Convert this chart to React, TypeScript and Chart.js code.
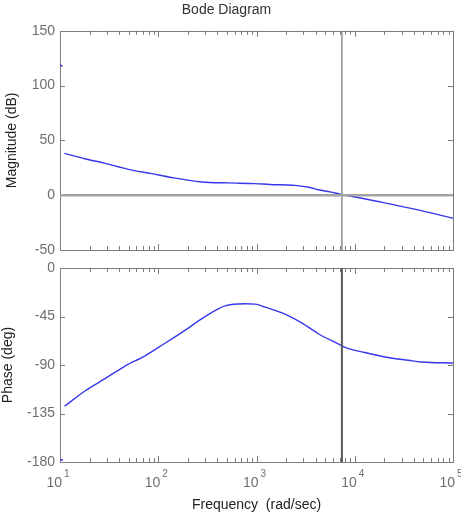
import React, { useEffect, useRef } from 'react';
import { Chart, registerables } from 'chart.js';

Chart.register(...registerables);

// ---- data ----
const FREQ_MIN = 10;
const FREQ_MAX = 100000;
const DECADE_EXPONENTS = [1, 2, 3, 4, 5];
const MAG_TICKS = [-50, 0, 50, 100, 150];
const PHASE_TICKS = [-180, -135, -90, -45, 0];
const CROSSOVER_FREQ = 7400;
const ZERO_DB = 0;

const magFreq = [11.1, 17.9, 28.7, 49.5, 86, 137, 277, 517, 966, 1371, 2466, 3510, 4230, 5600, 7450, 10800, 17200, 40600, 100000];
const magDb = [38.2, 33.3, 29.1, 23.6, 19.7, 16.1, 12.1, 11.2, 10.6, 9.8, 9.0, 7.0, 5.0, 3.0, 0.6, -2.1, -5.7, -12.7, -21];

const phaseFreq = [11.1, 17.97, 28.7, 45.9, 73.3, 117, 187, 299, 478, 764, 966, 1222, 1951, 2884, 4256, 6804, 7955, 12700, 21950, 35050, 47960, 100000];
const phaseDeg = [-128.3, -114.1, -102.7, -91.0, -81.5, -69.8, -57.8, -45.2, -35.1, -33.2, -33.5, -36.3, -42.7, -50.9, -61.0, -70.5, -73.6, -78.4, -83.1, -85.6, -87.2, -88.2];

const magStrayFreq = [10, 10.6];
const magStrayDb = [119, 117.5];
const phaseStrayFreq = [10, 10.7];
const phaseStrayDeg = [-178, -178];

const FONT = '"Liberation Sans", Arial, Helvetica, sans-serif';
const BLUE = 'rgb(55,55,235)';
const TICK_TEXT = '#6e6e6e';
const FRAME = '#7c7c7c';

const pts = (xs: number[], ys: number[]) => xs.map((x, i) => ({ x, y: ys[i] }));

function axesPlugin(yTicks: number[], drawXLabels: boolean) {
  return {
    id: 'matlabAxes',
    beforeDatasetsDraw(chart: any) {
      const { ctx, chartArea } = chart;
      const { left, right, top, bottom } = chartArea;
      const x = chart.scales.x;
      const y = chart.scales.y;
      ctx.save();
      ctx.strokeStyle = FRAME;
      ctx.lineWidth = 1;
      ctx.beginPath();
      for (const v of yTicks) {
        const py = Math.round(y.getPixelForValue(v)) + 0.5;
        ctx.moveTo(left, py);
        ctx.lineTo(left + 5, py);
        ctx.moveTo(right, py);
        ctx.lineTo(right - 5, py);
      }
      for (const e of DECADE_EXPONENTS) {
        for (let m = 1; m <= 9; m++) {
          const v = m * Math.pow(10, e);
          if (v < FREQ_MIN || v > FREQ_MAX) continue;
          const len = m === 1 ? 6 : 4;
          const px = Math.round(x.getPixelForValue(v)) + 0.5;
          ctx.moveTo(px, bottom);
          ctx.lineTo(px, bottom - len);
          ctx.moveTo(px, top);
          ctx.lineTo(px, top + len);
        }
      }
      ctx.stroke();
      ctx.strokeRect(Math.round(left) + 0.5, Math.round(top) + 0.5, Math.round(right - left), Math.round(bottom - top));
      ctx.restore();
    },
    afterDraw(chart: any) {
      if (!drawXLabels) return;
      const { ctx, chartArea } = chart;
      const x = chart.scales.x;
      ctx.save();
      ctx.fillStyle = TICK_TEXT;
      ctx.textBaseline = 'alphabetic';
      for (const e of DECADE_EXPONENTS) {
        const px = x.getPixelForValue(Math.pow(10, e));
        ctx.font = `14px ${FONT}`;
        ctx.textAlign = 'right';
        ctx.fillText('10', px + 2, chartArea.bottom + 25);
        ctx.font = `10px ${FONT}`;
        ctx.textAlign = 'left';
        ctx.fillText(String(e), px + 4, chartArea.bottom + 15);
      }
      ctx.restore();
    },
  };
}

function xScale(extra: any) {
  return {
    type: 'logarithmic',
    min: FREQ_MIN,
    max: FREQ_MAX,
    ticks: { display: false },
    grid: { display: false, drawTicks: false },
    border: { display: false },
    ...extra,
  };
}

function yScale(ticksArr: number[], title: string, titlePadTop: number) {
  return {
    type: 'linear',
    min: ticksArr[0],
    max: ticksArr[ticksArr.length - 1],
    afterBuildTicks: (s: any) => {
      s.ticks = ticksArr.map((v) => ({ value: v }));
    },
    afterFit: (s: any) => {
      s.width = 60;
      s.paddingTop = 0;
      s.paddingBottom = 0;
    },
    ticks: {
      color: TICK_TEXT,
      padding: 5,
      font: { family: FONT, size: 14 },
      autoSkip: false,
    },
    grid: { display: false, drawTicks: false },
    border: { display: false },
    title: {
      display: true,
      text: title,
      color: '#222',
      font: { family: FONT, size: 14 },
      padding: { top: titlePadTop, bottom: 0 },
    },
  };
}

export default function App() {
  const topRef = useRef<HTMLCanvasElement>(null);
  const botRef = useRef<HTMLCanvasElement>(null);

  useEffect(() => {
    Chart.defaults.font.family = FONT;
    const lineDs = (data: any[], color: string, width: number, smooth = false) => ({
      data,
      borderColor: color,
      borderWidth: width,
      pointRadius: 0,
      fill: false,
      cubicInterpolationMode: smooth ? 'monotone' : 'default',
      tension: 0,
    });

    const top = new Chart(topRef.current as HTMLCanvasElement, {
      type: 'line',
      data: {
        datasets: [
          lineDs(pts([FREQ_MIN, FREQ_MAX], [ZERO_DB, ZERO_DB]), '#a3a3a3', 2.5),
          lineDs(pts([CROSSOVER_FREQ, CROSSOVER_FREQ], [MAG_TICKS[0], MAG_TICKS[MAG_TICKS.length - 1]]), '#8e8e8e', 1.5),
          lineDs(pts(magFreq, magDb), BLUE, 1.4, true),
          lineDs(pts(magStrayFreq, magStrayDb), BLUE, 1.4),
        ] as any,
      },
      options: {
        animation: false,
        responsive: false,
        events: [],
        layout: { padding: { left: 0, right: 8, top: 0, bottom: 9 } },
        plugins: {
          legend: { display: false },
          tooltip: { enabled: false },
          title: {
            display: true,
            text: 'Bode Diagram',
            color: '#333',
            font: { family: FONT, size: 14, weight: 'normal' },
            padding: { top: 2, bottom: 12 },
          },
        },
        scales: {
          x: xScale({ display: false }),
          y: yScale(MAG_TICKS, 'Magnitude (dB)', 4),
        } as any,
      },
      plugins: [axesPlugin(MAG_TICKS, false)],
    } as any);

    const bot = new Chart(botRef.current as HTMLCanvasElement, {
      type: 'line',
      data: {
        datasets: [
          lineDs(pts([CROSSOVER_FREQ, CROSSOVER_FREQ], [PHASE_TICKS[0], PHASE_TICKS[PHASE_TICKS.length - 1]]), '#5a5a5a', 2),
          lineDs(pts(phaseFreq, phaseDeg), BLUE, 1.4, true),
          lineDs(pts(phaseStrayFreq, phaseStrayDeg), BLUE, 1.6),
        ] as any,
      },
      options: {
        animation: false,
        responsive: false,
        events: [],
        layout: { padding: { left: 0, right: 8, top: 9, bottom: 0 } },
        plugins: {
          legend: { display: false },
          tooltip: { enabled: false },
        },
        scales: {
          x: xScale({
            display: true,
            afterFit: (s: any) => {
              s.height = 57;
            },
            title: {
              display: true,
              text: 'Frequency  (rad/sec)',
              color: '#222',
              font: { family: FONT, size: 14 },
              padding: { top: 0, bottom: 5 },
            },
          }),
          y: yScale(PHASE_TICKS, 'Phase (deg)', 0),
        } as any,
      },
      plugins: [axesPlugin(PHASE_TICKS, true)],
    } as any);

    return () => {
      top.destroy();
      bot.destroy();
    };
  }, []);

  return (
    <div style={{ position: 'absolute', left: 0, top: 0, width: 461, height: 519, background: '#fff' }}>
      <canvas ref={topRef} width={461} height={259} style={{ position: 'absolute', left: 0, top: 0, width: 461, height: 259 }} />
      <canvas ref={botRef} width={461} height={260} style={{ position: 'absolute', left: 0, top: 259, width: 461, height: 260 }} />
    </div>
  );
}
